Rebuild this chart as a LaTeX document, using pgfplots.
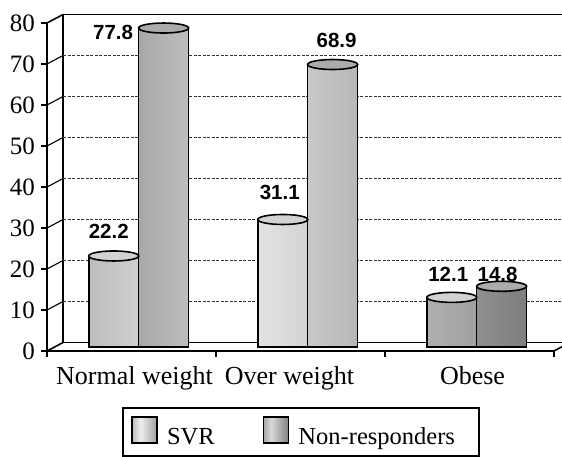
\documentclass[border=0pt]{standalone}
\usepackage{fontspec}
\setmainfont{Liberation Serif}
\newfontfamily\arialfont{Liberation Sans}
\usepackage{pgfplots}
\pgfplotsset{compat=1.18}
\usepackage{pgfplotstable}

\definecolor{svrL}{HTML}{BDBDBD}
\definecolor{svrM}{HTML}{EEEEEE}
\definecolor{svrR}{HTML}{A0A0A0}
\definecolor{nrL}{HTML}{A8A8A8}
\definecolor{nrM}{HTML}{DADADA}
\definecolor{nrR}{HTML}{7E7E7E}
\definecolor{svrTop}{HTML}{D2D2D2}
\definecolor{nrTop}{HTML}{ABABAB}

\pgfdeclarehorizontalshading{svrshade}{100bp}{color(0bp)=(svrL); color(25bp)=(svrL); color(42bp)=(svrM); color(75bp)=(svrR); color(100bp)=(svrR)}
\pgfdeclarehorizontalshading{nrshade}{100bp}{color(0bp)=(nrL); color(25bp)=(nrL); color(40bp)=(nrM); color(75bp)=(nrR); color(100bp)=(nrR)}

\pgfdeclareplotmark{cyltop}{%
  \pgfpathellipse{\pgfpointorigin}{\pgfqpoint{25pt}{0pt}}{\pgfqpoint{0pt}{5pt}}%
  \pgfusepathqfillstroke}

\pgfplotsset{swatchlegend/.style={legend image code/.code={%
  \draw[##1, line width=1.8pt] (0pt,-10pt) rectangle (25pt,16pt);}}}

\pgfplotstableread{
x y dx dy
0 22.2 -5 17
1 31.1 -3 19.5
2 12.1 -3.5 16
}\svrdata
\pgfplotstableread{
x y dx dy
0 77.8 -50.5 -11
1 68.9 4 17.5
2 14.8 -4 5
}\nrdata

\begin{document}
\begin{tikzpicture}
\path[use as bounding box] (0,0) rectangle (562pt,457pt);
\begin{axis}[
  at={(47pt,106pt)}, anchor=south west,
  scale only axis, width=507pt, height=328pt,
  xmin=-0.5, xmax=2.5, ymin=0, ymax=80,
  clip=false,
  axis x line*=bottom, axis y line*=left,
  axis line style={line width=1.6pt, -},
  ytick={0,10,20,30,40,50,60,70,80},
  yticklabels={0,10,20,30,40,50,60,70,80},
  xtick={0.018,0.935,2.018},
  xticklabels={Normal weight, Over weight, Obese},
  x tick style={draw=none},
  extra x ticks={-0.5,0.5,1.5,2.5},
  extra x tick labels={},
  extra x tick style={x tick style={draw=black, line width=1.6pt}},
  tick align=outside,
  major tick length=6pt,
  y tick style={line width=1.6pt, black},
  /pgf/number format/assume math mode=true,
  ticklabel style={font=\rmfamily\fontsize{25}{28}\selectfont},
  xticklabel style={inner sep=0pt, yshift=-9pt, font=\rmfamily\fontsize{26}{28}\selectfont},
  yticklabel style={inner sep=0pt, xshift=-6pt},
  legend style={at={(axis description cs:0.1479,-0.1707)}, anchor=north west,
    draw=black, line width=2.5pt, inner xsep=8pt, inner ysep=8pt,
    font=\rmfamily\fontsize{24.5}{28}\selectfont, legend columns=2,
    /tikz/every odd column/.append style={column sep=7pt},
    /tikz/every even column/.append style={column sep=46pt}},
  legend cell align=left,
]
% back wall and floor (3D frame)
\draw[line width=1.6pt] (axis cs:-0.5,80) -- (axis cs:-0.4053,82.07);
\draw[line width=1.6pt] (axis cs:-0.4053,82.07) -- (axis cs:2.65,82.07);
\draw[line width=1.6pt] (axis cs:-0.4053,2.07) -- (axis cs:-0.4053,82.07);
\draw[line width=1.6pt] (axis cs:-0.5,0) -- (axis cs:-0.4053,2.07);
\draw[line width=1.6pt] (axis cs:-0.4053,2.07) -- (axis cs:2.65,2.07);
\draw[line width=1.6pt] (axis cs:2.5,0) -- (axis cs:2.5947,2.07);
\foreach \v/\w in {10/12.07,20/22.07,30/32.07,40/42.07,50/52.07,60/62.07,70/72.07}{
  \edef\temp{\noexpand\draw[line width=1.1pt] (axis cs:-0.5,\v) -- (axis cs:-0.4053,\w);
  \noexpand\draw[dash pattern=on 3pt off 1.5pt, line width=0.8pt, black!80] (axis cs:-0.4053,\w) -- (axis cs:2.65,\w);}
  \temp
}
% bars
\addplot[ybar, bar width=50pt, bar shift=0pt, yshift=4pt, draw=black, line width=1.6pt,
  shade, shading=svrshade, swatchlegend]
  table[x expr=\thisrow{x}-0.105, y=y] {\svrdata};
\addlegendentry{SVR\rule[-24pt]{0pt}{24pt}}
\addplot[ybar, bar width=50pt, bar shift=0pt, yshift=4pt, draw=black, line width=1.6pt,
  shade, shading=nrshade, swatchlegend]
  table[x expr=\thisrow{x}+0.19, y=y] {\nrdata};
\addlegendentry{Non-responders\rule{14pt}{0pt}}
% cylinder tops and value labels
\addplot[only marks, mark=cyltop, yshift=4pt, forget plot,
  mark options={fill=svrTop, draw=black, line width=1.6pt},
  visualization depends on={\thisrow{dx} \as \ldx},
  visualization depends on={\thisrow{dy} \as \ldy},
  nodes near coords={\pgfmathprintnumber[fixed,precision=1,zerofill]{\pgfplotspointmeta}},
  every node near coord/.append style={font=\arialfont\bfseries\fontsize{20.5}{22}\selectfont,
    anchor=base, inner sep=0pt, xshift=\ldx pt, yshift=\ldy pt}]
  table[x expr=\thisrow{x}-0.105, y=y] {\svrdata};
\addplot[only marks, mark=cyltop, yshift=4pt, forget plot,
  mark options={fill=nrTop, draw=black, line width=1.6pt},
  visualization depends on={\thisrow{dx} \as \ldx},
  visualization depends on={\thisrow{dy} \as \ldy},
  nodes near coords={\pgfmathprintnumber[fixed,precision=1,zerofill]{\pgfplotspointmeta}},
  every node near coord/.append style={font=\arialfont\bfseries\fontsize{20.5}{22}\selectfont,
    anchor=base, inner sep=0pt, xshift=\ldx pt, yshift=\ldy pt}]
  table[x expr=\thisrow{x}+0.19, y=y] {\nrdata};
\end{axis}
\end{tikzpicture}
\end{document}
